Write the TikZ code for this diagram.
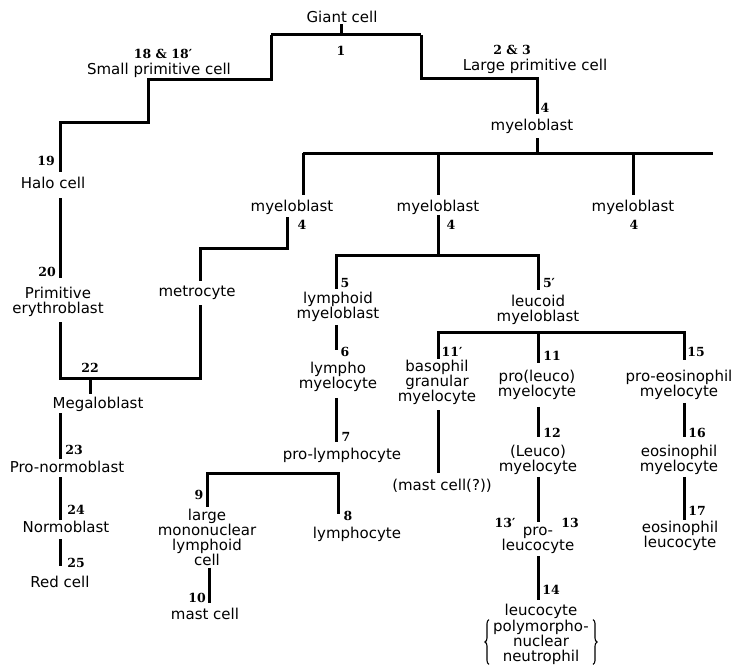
\documentclass[tikz,border=0pt]{standalone}
\usepackage{fontspec}
\setmainfont{DejaVu Sans}
\newfontfamily\numfamily{DejaVu Serif}
\usetikzlibrary{decorations.pathreplacing}
\newcommand{\cellfont}{\fontsize{15}{15}\selectfont}
\newcommand{\numfont}{\numfamily\fontsize{12.5}{12.5}\selectfont\bfseries}
\begin{document}
\begin{tikzpicture}[x=1pt, y=-1pt,
    cell/.style={font=\cellfont, align=center, inner sep=1pt},
    num/.style={font=\numfont, inner sep=0pt},
    link/.style={line width=3pt},
    gap/.style={shorten <=5pt, shorten >=5pt},
    curly/.style={line width=1.1pt, decorate, decoration={brace, amplitude=4pt}}]
    \useasboundingbox (0,0) rectangle (743,666);

    % Cellule
    \node[cell] (giant) at (342,17) {Giant cell};
    \node[cell] (small) at (159,70) {Small primitive cell};
    \node[cell] (large) at (535,66) {Large primitive cell};
    \node[cell] (myelo) at (532,126) {myeloblast};
    \node[cell] (halo) at (53,183) {Halo cell};
    \node[cell] (myeloL) at (292,207) {myeloblast};
    \node[cell] (myeloM) at (438,207) {myeloblast};
    \node[cell] (myeloR) at (633,207) {myeloblast};
    \node[cell] (prim) at (58,302) {Primitive\\erythroblast};
    \node[cell] (metro) at (197,293) {metrocyte};
    \node[cell] (mega) at (98,404) {Megaloblast};
    \node[cell] (prono) at (67,467) {Pro-normoblast};
    \node[cell] (normo) at (66,527) {Normoblast};
    \node[cell] (red) at (60,582) {Red cell};
    \node[cell] (lymMb) at (338,307) {lymphoid\\myeloblast};
    \node[cell] (lymMc) at (338,377) {lympho\\myelocyte};
    \node[cell] (prolym) at (342,455) {pro-lymphocyte};
    \node[cell] (lmono) at (207,537) {large\\mononuclear\\lymphoid\\cell};
    \node[cell] (mast) at (205,614) {mast cell};
    \node[cell] (lymph) at (357,534) {lymphocyte};
    \node[cell] (leuMb) at (538,310) {leucoid\\myeloblast};
    \node[cell] (baso) at (437,382) {basophil\\granular\\myelocyte};
    \node[cell] (proleu) at (537,385) {pro(leuco)\\myelocyte};
    \node[cell] (proeo) at (679,385) {pro-eosinophil\\myelocyte};
    \node[cell] (mastq) at (442,486) {(mast cell(?))};
    \node[cell] (leuMc) at (538,460) {(Leuco)\\myelocyte};
    \node[cell] (proleuc) at (538,540) {pro-\\leucocyte};
    \node[cell] (leuco) at (541,611) {leucocyte};
    \node[cell, inner sep=0pt] (poly) at (541,642) {polymorpho-\\nuclear\\neutrophil};
    \node[cell] (eoMc) at (679,460) {eosinophil\\myelocyte};
    \node[cell] (eoLc) at (680,536) {eosinophil\\leucocyte};

    % Numeri
    \node[num] (n1) at (341,51) {1};
    \node[num] (n18and18) at (163,54) {18 \& 18′};
    \node[num] (n2and3) at (512,50) {2 \& 3};
    \node[num] (n4) at (545,108) {4};
    \node[num] (n19) at (46,161) {19};
    \node[num] (n4L) at (302,225) {4};
    \node[num] (n4M) at (451,225) {4};
    \node[num] (n4R) at (634,225) {4};
    \node[num] (n20) at (47,272) {20};
    \node[num] (n22) at (90,368) {22};
    \node[num] (n23) at (74,450) {23};
    \node[num] (n24) at (76,510) {24};
    \node[num] (n25) at (76,563) {25};
    \node[num] (n5) at (345,283) {5};
    \node[num] (n6) at (345,352) {6};
    \node[num] (n7) at (346,437) {7};
    \node[num] (n9) at (199,495) {9};
    \node[num] (n10) at (197,598) {10};
    \node[num] (n8) at (348,516) {8};
    \node[num] (n5p) at (549,283) {5′};
    \node[num] (n11p) at (452,352) {11′};
    \node[num] (n11) at (552,356) {11};
    \node[num] (n15) at (696,352) {15};
    \node[num] (n12) at (552,433) {12};
    \node[num] (n13p) at (505,523) {13′};
    \node[num] (n13) at (570,523) {13};
    \node[num] (n14) at (551,590) {14};
    \node[num] (n16) at (697,433) {16};
    \node[num] (n17) at (697,511) {17};

    % Giunzioni
    \coordinate (top) at (341,35);
    \coordinate (topL) at (271,35);
    \coordinate (topR) at (421,35);
    \coordinate (stepA) at (148,80);
    \coordinate (stepB) at (60,122);
    \coordinate (stepC) at (537,79);
    \coordinate (joinD) at (537,153);
    \coordinate (barL) at (303,153);
    \coordinate (barR) at (713,153);
    \coordinate (joinE) at (287,248);
    \coordinate (joinF) at (60,378);
    \coordinate (joinM) at (90,378);
    \coordinate (joinF2) at (438,255);
    \coordinate (joinL) at (336,255);
    \coordinate (joinR) at (538,255);
    \coordinate (joinG) at (207,473);
    \coordinate (joinH) at (338,473);
    \coordinate (joinI) at (438,332);
    \coordinate (joinJ) at (538,332);
    \coordinate (joinK) at (684,332);

    % Tronco
    \draw[link] (top |- giant.south) -- (top);
    \draw[link] (topL) -- (topR);
    \draw[link, shorten >=4pt] (topL) |- (stepA) |- (stepB) -- (stepB |- halo.north);
    \draw[link, shorten >=4pt] (topR) |- (stepC) -- (stepC |- myelo.north);
    \draw[link, shorten <=4pt] (joinD |- myelo.south) -- (joinD);
    \draw[link] (barL) -- (barR);
    \draw[link, shorten >=4pt] (barL) -- (barL |- myeloL.north);
    \draw[link, shorten >=4pt] (myeloM.north |- barL) -- (myeloM.north);
    \draw[link, shorten >=4pt] (myeloR.north |- barL) -- (myeloR.north);

    % Serie rossa
    \draw[link, shorten <=8pt, shorten >=8pt] (stepB |- halo.south) -- (stepB |- prim.north);
    \draw[link, shorten <=2pt, shorten >=4pt] (joinE |- myeloL.south) -- (joinE) -| ([xshift=3pt]metro.north);
    \draw[link, shorten <=4pt, shorten >=4pt] ([xshift=3pt]metro.south) |- (joinF) -- (joinF |- prim.south);
    \draw[link, shorten >=2pt] (joinM) -- (joinM |- mega.north);
    \draw[link, shorten <=1pt, shorten >=1pt] (stepB |- mega.south) -- (stepB |- prono.north);
    \draw[link, shorten <=3pt] (stepB |- prono.south) -- (stepB |- normo.north);
    \draw[link, shorten <=5pt, shorten >=9pt] (stepB |- normo.south) -- (stepB |- red.north);

    % Serie linfoide
    \draw[link] (joinF2 |- myeloM.south) -- (joinF2);
    \draw[link, shorten <=2pt, shorten >=4pt] (joinL |- lymMb.north) -- (joinL) -- (joinR) -- (joinR |- leuMb.north);
    \draw[link, shorten <=2pt, shorten >=11pt] (joinL |- lymMb.south) -- (joinL |- lymMc.north);
    \draw[link, gap] (joinL |- lymMc.south) -- (joinL |- prolym.north);
    \draw[link, shorten <=1pt, shorten >=12pt] (joinG |- lmono.north) -- (joinG) -- (joinH) -- (joinH |- lymph.north);
    \draw[link, shorten <=1pt, shorten >=4pt] ([xshift=2pt]lmono.south) -- ([xshift=4pt]mast.north);

    % Serie leucoide
    \draw[link, shorten >=9pt] (joinI |- baso.north) -- (joinI) -- (joinK) -- (joinK |- proeo.north);
    \draw[link, shorten >=6pt] (joinJ) -- (joinJ |- proleu.north);
    \draw[link, gap] (joinI |- baso.south) -- (joinI |- mastq.north);
    \draw[link, shorten <=6pt, shorten >=7pt] (joinJ |- proleu.south) -- (joinJ |- leuMc.north);
    \draw[link, shorten <=1pt, shorten >=4pt] (joinJ |- leuMc.south) -- (joinJ |- proleuc.north);
    \draw[link, shorten <=2pt, shorten >=3pt] (joinJ |- proleuc.south) -- (joinJ |- leuco.north);
    \draw[link, shorten <=2pt, shorten >=7pt] (joinK |- proeo.south) -- (joinK |- eoMc.north);
    \draw[link, shorten <=1pt] (joinK |- eoMc.south) -- (joinK |- eoLc.north);

    % Graffe
    \draw[curly] ([xshift=-4pt]poly.south west) -- ([xshift=-4pt]poly.north west);
    \draw[curly] ([xshift=4pt]poly.north east) -- ([xshift=4pt]poly.south east);
\end{tikzpicture}
\end{document}
